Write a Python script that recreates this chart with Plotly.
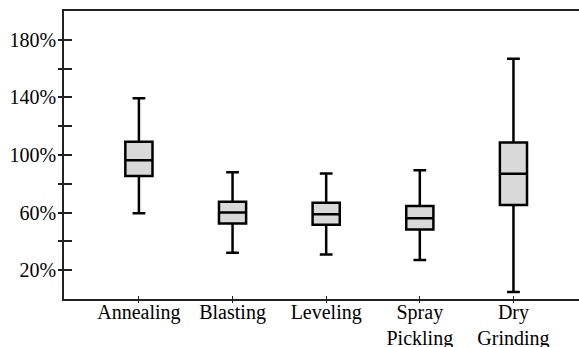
import plotly.graph_objects as go

categories = ["Annealing", "Blasting", "Leveling", "Spray<br>Pickling", "Dry<br>Grinding"]
lower_whisker = [59.5, 32.1, 30.9, 27.0, 4.9]
q1 = [85.5, 52.5, 51.6, 48.3, 65.3]
median = [96.4, 60.0, 58.8, 56.0, 86.9]
q3 = [109.2, 67.6, 66.9, 64.6, 108.7]
upper_whisker = [139.4, 88.0, 87.1, 89.4, 166.8]
ytick_vals = [20, 60, 100, 140, 180]
ytick_text = ["20%", "60%", "100%", "140%", "180%"]

positions = list(range(len(categories)))
FONT = "Liberation Serif"
YR = [0, 200]
XR = [-0.8, 4.7]

fig = go.Figure()
fig.add_trace(go.Box(
    x=positions,
    q1=q1, median=median, q3=q3,
    lowerfence=lower_whisker, upperfence=upper_whisker,
    width=0.29, whiskerwidth=0.47,
    fillcolor="#d9d9d9",
    line=dict(color="black", width=2.5),
    boxpoints=False,
    showlegend=False,
    hoverinfo="skip",
))
# invisible trace to anchor overlay axes (inside tick halves)
fig.add_trace(go.Scatter(x=[0], y=[100], xaxis="x2", yaxis="y2",
                         mode="markers", marker=dict(opacity=0),
                         showlegend=False, hoverinfo="skip"))

fig.update_layout(
    width=579, height=347,
    margin=dict(l=64, r=0, t=11, b=48, autoexpand=False),
    paper_bgcolor="white", plot_bgcolor="white",
    font=dict(family=FONT, size=20, color="black"),
    xaxis=dict(
        range=XR, tickvals=positions, ticktext=categories,
        showline=True, linecolor="#222", linewidth=1.5, mirror=True,
        ticks="outside", ticklen=2, tickwidth=1, tickcolor="#222",
        showgrid=False, zeroline=False, automargin=False,
        tickfont=dict(family=FONT, size=20),
        ticklabelstandoff=-8,
    ),
    yaxis=dict(
        range=YR, tickvals=ytick_vals, ticktext=ytick_text,
        showline=True, linecolor="#222", linewidth=1.5,
        ticks="outside", ticklen=4, tickwidth=1.5, tickcolor="#222",
        minor=dict(tickvals=[40, 80, 120, 160], ticks="outside", ticklen=4,
                   tickwidth=1.5, tickcolor="#222", showgrid=False),
        showgrid=False, zeroline=False, automargin=False,
        tickfont=dict(family=FONT, size=20),
        ticklabelstandoff=-2,
    ),
    xaxis2=dict(
        range=XR, overlaying="x", tickvals=positions, showticklabels=False,
        ticks="inside", ticklen=3, tickwidth=1, tickcolor="#222",
        showgrid=False, zeroline=False, showline=False, automargin=False,
    ),
    yaxis2=dict(
        range=YR, overlaying="y", tickvals=ytick_vals, showticklabels=False,
        ticks="inside", ticklen=8, tickwidth=1.5, tickcolor="#222",
        minor=dict(tickvals=[40, 80, 120, 160], ticks="inside", ticklen=8,
                   tickwidth=1.5, tickcolor="#222", showgrid=False),
        showgrid=False, zeroline=False, showline=False, automargin=False,
    ),
)

fig.write_html("out.html")
